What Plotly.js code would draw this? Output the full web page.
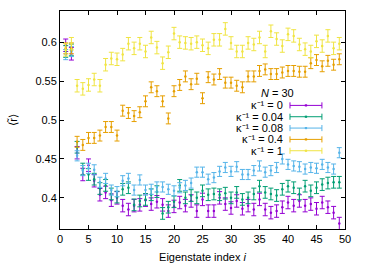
<!DOCTYPE html>
<html>
<head>
<meta charset="utf-8">
<script src="https://cdn.plot.ly/plotly-3.0.1.min.js"></script>
<style>html,body{margin:0;padding:0;background:#fff;}#chart{width:370px;height:265px;}</style>
</head>
<body>
<div id="chart"></div>
<script>
// Eigenstate index
const idx = [1,2,3,4,5,6,7,8,9,10,11,12,13,14,15,16,17,18,19,20,21,22,23,24,25,26,27,28,29,30,31,32,33,34,35,36,37,38,39,40,41,42,43,44,45,46,47,48,49];

// <r> values per kappa^-1
const r_k0 = [0.596,0.585,0.458,0.430,0.442,0.422,0.404,0.407,0.397,0.400,0.390,0.385,0.390,0.391,0.397,0.392,0.395,0.391,0.383,0.389,0.394,0.390,0.396,0.383,0.398,0.383,0.383,0.400,0.392,0.387,0.396,0.386,0.390,0.385,0.398,0.385,0.381,0.383,0.388,0.394,0.390,0.396,0.390,0.392,0.386,0.394,0.388,0.381,0.367];
const r_k004 = [0.588,0.590,0.465,0.437,0.430,0.424,0.412,0.416,0.405,0.401,0.411,0.413,0.391,0.396,0.398,0.404,0.408,0.380,0.388,0.395,0.416,0.400,0.403,0.400,0.409,0.404,0.405,0.404,0.406,0.400,0.407,0.398,0.400,0.405,0.415,0.407,0.405,0.403,0.411,0.415,0.413,0.405,0.415,0.409,0.413,0.417,0.419,0.420,0.420];
const r_k008 = [0.584,0.588,0.454,0.435,0.438,0.436,0.420,0.425,0.410,0.408,0.422,0.425,0.410,0.423,0.410,0.411,0.414,0.414,0.411,0.409,0.413,0.416,0.419,0.433,0.433,0.424,0.426,0.434,0.439,0.434,0.440,0.430,0.430,0.435,0.441,0.433,0.435,0.439,0.450,0.443,0.441,0.440,0.437,0.439,0.438,0.443,0.439,0.437,0.458];
const r_k04 = [0.592,0.592,0.472,0.468,0.477,0.477,0.480,0.491,0.491,0.480,0.512,0.509,0.505,0.510,0.524,0.542,0.537,0.524,0.502,0.537,0.545,0.556,0.546,0.553,0.528,0.555,0.552,0.559,0.548,0.548,0.544,0.542,0.556,0.556,0.563,0.565,0.559,0.559,0.561,0.563,0.563,0.562,0.562,0.573,0.577,0.569,0.576,0.571,0.578];
const r_k1 = [0.590,0.598,0.544,0.540,0.545,0.552,0.544,0.571,0.579,0.578,0.584,0.598,0.592,0.598,0.588,0.606,0.593,0.573,0.587,0.611,0.600,0.599,0.598,0.600,0.596,0.592,0.603,0.603,0.617,0.599,0.588,0.588,0.599,0.597,0.606,0.588,0.614,0.604,0.595,0.610,0.608,0.597,0.591,0.588,0.601,0.595,0.608,0.592,0.598];

// error bar half-widths per series
const err_k0 = 0.008, err_k004 = 0.0075, err_k008 = 0.0065, err_k04 = 0.007, err_k1 = 0.008;

const legendLabels = ["κ⁻¹ = 0","κ⁻¹ = 0.04","κ⁻¹ = 0.08","κ⁻¹ = 0.4","κ⁻¹ = 1"];
const legendTitle = "<i>N</i> = 30";
const xTicks = [0,5,10,15,20,25,30,35,40,45,50];
const yTicks = [0.4,0.45,0.5,0.55,0.6];
const yTickText = ['0.4','0.45','0.5','0.55','0.6'];

const colors = ["#9400D3","#009E73","#56B4E9","#E69F00","#F0E442"];
const series = [r_k0, r_k004, r_k008, r_k04, r_k1];
const errs = [err_k0, err_k004, err_k008, err_k04, err_k1];

const traces = series.map((ys, k) => ({
  x: idx, y: ys, type: 'scatter', mode: 'markers',
  marker: {color: colors[k], size: 2.5},
  error_y: {type: 'constant', value: errs[k], color: colors[k], thickness: 1, width: 2.5},
  showlegend: false, hoverinfo: 'skip'
}));

// manual gnuplot-style key
const shapes = [];
const annotations = [];
const rowY = [0.567, 0.515, 0.463, 0.411, 0.359];
const kx0 = 0.807, kx1 = 0.919, cap = 0.014;
const kfont = {family:'Liberation Sans, Arial, sans-serif', size:11, color:'#000'};
annotations.push({xref:'paper', yref:'paper', x:0.762, y:0.622, text:legendTitle, showarrow:false,
  xanchor:'center', yanchor:'middle', font:kfont});
legendLabels.forEach((lab, k) => {
  annotations.push({xref:'paper', yref:'paper', x:0.788, y:rowY[k], text:lab, showarrow:false,
    xanchor:'right', yanchor:'middle', font:kfont});
  shapes.push({type:'line', xref:'paper', yref:'paper', x0:kx0, x1:kx1, y0:rowY[k], y1:rowY[k], line:{color:colors[k], width:1}});
  shapes.push({type:'line', xref:'paper', yref:'paper', x0:kx0, x1:kx0, y0:rowY[k]-cap, y1:rowY[k]+cap, line:{color:colors[k], width:1}});
  shapes.push({type:'line', xref:'paper', yref:'paper', x0:kx1, x1:kx1, y0:rowY[k]-cap, y1:rowY[k]+cap, line:{color:colors[k], width:1}});
  shapes.push({type:'rect', xref:'paper', yref:'paper', x0:(kx0+kx1)/2-0.004, x1:(kx0+kx1)/2+0.004, y0:rowY[k]-0.005, y1:rowY[k]+0.005, line:{width:0}, fillcolor:colors[k]});
});

const font = {family:'Liberation Sans, Arial, sans-serif', size:11, color:'#000'};
const layout = {
  width:370, height:265,
  margin:{l:60, r:25, t:11, b:36},
  paper_bgcolor:'#fff', plot_bgcolor:'#fff',
  font: font,
  showlegend:false,
  xaxis:{range:[0,50], tickvals:xTicks, ticktext:xTicks.map(String), ticks:'inside', ticklen:4, tickcolor:'#000',
    showline:true, linecolor:'#000', linewidth:1, mirror:'ticks', showgrid:false, zeroline:false,
    title:{text:'Eigenstate index <i>i</i>', font:font, standoff:9}, automargin:false},
  yaxis:{range:[0.36,0.64], tickvals:yTicks, ticktext:yTickText, ticks:'inside', ticklen:4, tickcolor:'#000',
    showline:true, linecolor:'#000', linewidth:1, mirror:'ticks', showgrid:false, zeroline:false,
    title:{text:'⟨r̃⟩', font:font, standoff:15}, automargin:false},
  shapes: shapes,
  annotations: annotations
};

Plotly.newPlot('chart', traces, layout, {staticPlot:true, displayModeBar:false});
</script>
</body>
</html>
